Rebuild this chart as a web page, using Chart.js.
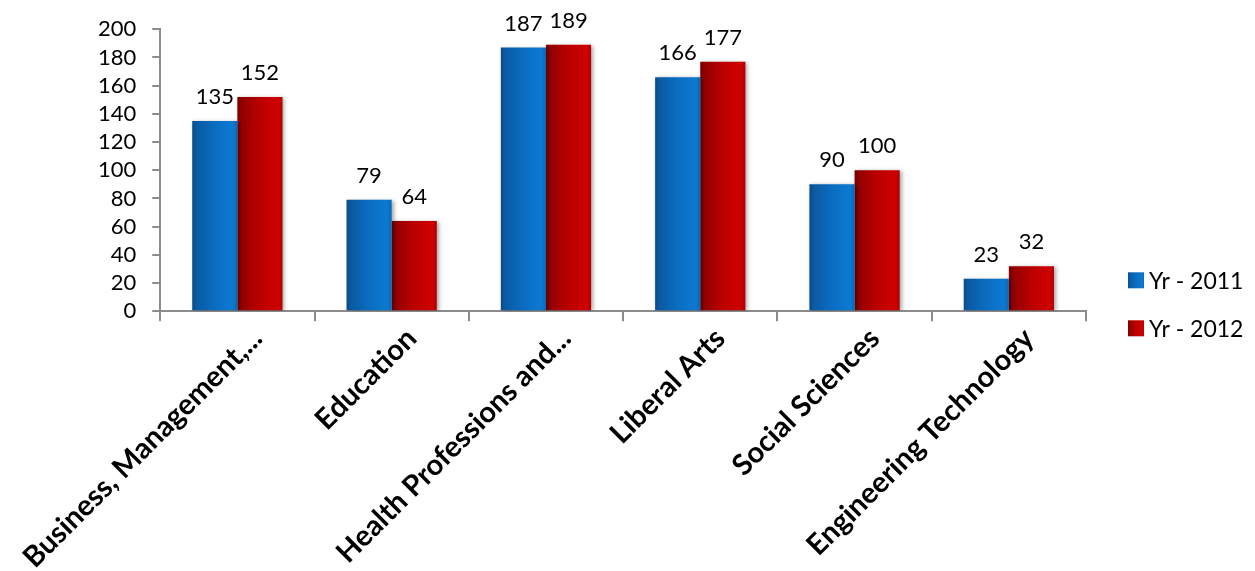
<!DOCTYPE html>
<html>
<head>
<meta charset="utf-8">
<script src="https://cdn.jsdelivr.net/npm/chart.js@4/dist/chart.umd.min.js"></script>
<style>
  html, body { margin: 0; padding: 0; background: #fff; }
  #wrap { width: 1255px; height: 571px; position: relative; }
</style>
</head>
<body>
<div id="wrap"><canvas id="c"></canvas></div>
<script>
// categories and values
const categories = ['Business, Management,...', 'Education', 'Health Professions and...',
                    'Liberal Arts', 'Social Sciences', 'Engineering Technology'];
const yr2011 = [135, 79, 187, 166, 90, 23];
const yr2012 = [152, 64, 189, 177, 100, 32];
const seriesNames = ['Yr - 2011', 'Yr - 2012'];
const yMax = 200, yStep = 20;

const FONT = 'Lato, Calibri, "Open Sans", sans-serif';
const AXIS = '#8c8c8c';
const CAT_PCT = 0.585;

// horizontal bevel-ish gradient per bar (dark left edge, brighter right)
const STOPS = [
  [[0, '#0a4a88'], [0.1, '#0b5aa2'], [0.5, '#0a6dc2'], [0.9, '#0c7ad2'], [1, '#0a66b4']],
  [[0, '#760000'], [0.1, '#930000'], [0.5, '#bb0000'], [0.9, '#cf0000'], [1, '#b00000']],
];
const FLAT = ['#0a6cc0', '#c00000'];

function barFill(ctx) {
  const xs = ctx.chart.scales.x;
  if (!xs || !xs.width) return FLAT[ctx.datasetIndex];
  const bw = xs.width / categories.length * CAT_PCT / 2;
  const cx = xs.getPixelForValue(ctx.dataIndex) + (ctx.datasetIndex === 0 ? -bw / 2 : bw / 2);
  const g = ctx.chart.ctx.createLinearGradient(cx - bw / 2, 0, cx + bw / 2, 0);
  STOPS[ctx.datasetIndex].forEach(([o, c]) => g.addColorStop(o, c));
  return g;
}

const barShadow = {
  id: 'barShadow',
  beforeDatasetsDraw(chart) {
    const c = chart.ctx;
    c.save();
    c.shadowColor = 'rgba(0,0,0,0.35)';
    c.shadowBlur = 4;
    c.shadowOffsetX = 2;
    c.shadowOffsetY = 1;
  },
  afterDatasetsDraw(chart) { chart.ctx.restore(); },
};

const valueLabels = {
  id: 'valueLabels',
  afterDraw(chart) {
    const c = chart.ctx;
    c.save();
    c.font = '22px ' + FONT;
    c.fillStyle = '#000';
    c.textAlign = 'center';
    c.textBaseline = 'alphabetic';
    chart.data.datasets.forEach((ds, i) => {
      chart.getDatasetMeta(i).data.forEach((el, j) => {
        c.fillText(String(ds.data[j]), el.x, el.y - 17);
      });
    });
    c.restore();
  },
};

// legend sits right of the plot, near its bottom (like the Excel original)
const sideLegend = {
  id: 'sideLegend',
  afterDraw(chart) {
    const c = chart.ctx, a = chart.chartArea;
    c.save();
    c.font = '23px ' + FONT;
    c.textBaseline = 'middle';
    seriesNames.forEach((name, i) => {
      const y = a.bottom - 31 + i * 48;
      const x = a.right + 42;
      const g = c.createLinearGradient(x, 0, x + 16, 0);
      STOPS[i].forEach(([o, col]) => g.addColorStop(o, col));
      c.fillStyle = g;
      c.fillRect(x, y - 8, 16, 16);
      c.fillStyle = '#000';
      c.fillText(name, x + 21, y + 1);
    });
    c.restore();
  },
};

new Chart(document.getElementById('c'), {
  type: 'bar',
  data: {
    labels: categories,
    datasets: [
      { label: seriesNames[0], data: yr2011, backgroundColor: barFill },
      { label: seriesNames[1], data: yr2012, backgroundColor: barFill },
    ],
  },
  plugins: [barShadow, valueLabels, sideLegend],
  options: {
    responsive: true,
    maintainAspectRatio: false,
    animation: false,
    layout: { padding: { top: 22, right: 169, left: 21, bottom: -4 } },
    datasets: { bar: { barPercentage: 1, categoryPercentage: CAT_PCT } },
    plugins: {
      tooltip: { enabled: false },
      legend: { display: false },
    },
    scales: {
      x: {
        offset: true,
        grid: { offset: true, drawOnChartArea: false, drawTicks: true, tickLength: 10, color: AXIS, lineWidth: 2 },
        border: { color: AXIS, width: 2 },
        ticks: {
          minRotation: 45, maxRotation: 45, autoSkip: false, padding: 0, labelOffset: 20,
          color: '#000', font: { family: FONT, size: 29, weight: 'bold' },
        },
      },
      y: {
        min: 0, max: yMax,
        grid: { drawOnChartArea: false, drawTicks: true, tickLength: 8, color: AXIS, lineWidth: 2 },
        border: { color: AXIS, width: 2 },
        ticks: { stepSize: yStep, autoSkip: false, padding: 16, color: '#000', font: { family: FONT, size: 22 } },
      },
    },
  },
});
</script>
</body>
</html>
